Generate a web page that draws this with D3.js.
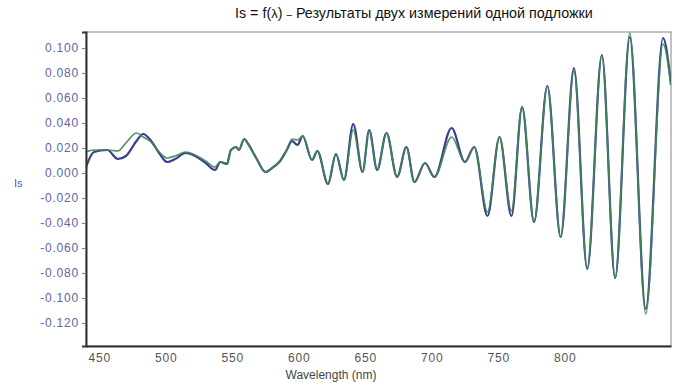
<!DOCTYPE html>
<html>
<head>
<meta charset="utf-8">
<script src="https://cdn.jsdelivr.net/npm/d3@7"></script>
<style>
  body { margin: 0; background: #fff; }
  svg { display: block; font-family: "Liberation Sans", Arial, sans-serif; }
  .axis--y text { fill: #6464a6; font-size: 12px; letter-spacing: 0.8px; }
  .axis--x text { fill: #555; font-size: 12px; letter-spacing: 0.8px; }
</style>
</head>
<body>
<div id="chart"></div>
<script>
// Is = f(lambda), two measurements of the same substrate

const wavelength = [
  440, 446, 456, 464, 470, 478, 483, 489, 495, 501, 507, 515, 522, 530, 537, 541, 546,
  549, 553, 555, 559, 562, 568, 575, 580, 586, 591, 595, 599, 603, 610, 614, 622, 628,
  634, 641, 648, 653, 659, 666, 674, 681, 687, 695, 702, 715, 725, 732, 742, 751, 760,
  768, 777, 787, 797, 807, 817, 828, 838, 849, 861, 874, 880
];

const isBlue = [
  0.0048, 0.0168, 0.0184, 0.0112, 0.0136, 0.0256, 0.0312, 0.0256, 0.0160, 0.0088, 0.0112,
  0.0160, 0.0136, 0.0080, 0.0024, 0.0088, 0.0072,
  0.0184, 0.0208, 0.0184, 0.0272, 0.0232, 0.0120, 0.0008, 0.0040, 0.0096, 0.0184, 0.0256,
  0.0224, 0.0296, 0.0104, 0.0176, -0.0088, 0.0152,
  -0.0056, 0.0392, 0.0008, 0.0344, 0.0024, 0.0320, -0.0032, 0.0208, -0.0072, 0.0080,
  -0.0032, 0.0360, 0.0088, 0.0208, -0.0344, 0.0288, -0.0344,
  0.0528, -0.0392, 0.0696, -0.0512, 0.0840, -0.0768, 0.0944, -0.0840, 0.1088, -0.1088,
  0.1080, 0.0704
];

const isGreen = [
  0.0168, 0.0184, 0.0184, 0.0176, 0.0240, 0.0320, 0.0288, 0.0248, 0.0168, 0.0120, 0.0136,
  0.0168, 0.0144, 0.0096, 0.0048, 0.0088, 0.0080,
  0.0184, 0.0208, 0.0184, 0.0272, 0.0232, 0.0120, 0.0008, 0.0040, 0.0096, 0.0184, 0.0272,
  0.0264, 0.0296, 0.0104, 0.0176, -0.0088, 0.0152,
  -0.0056, 0.0344, 0.0008, 0.0344, 0.0024, 0.0320, -0.0032, 0.0208, -0.0072, 0.0080,
  -0.0032, 0.0288, 0.0088, 0.0208, -0.0312, 0.0288, -0.0304,
  0.0528, -0.0392, 0.0696, -0.0512, 0.0816, -0.0768, 0.0944, -0.0840, 0.1120, -0.1128,
  0.1032, 0.0704
];

const xTicks = [450, 500, 550, 600, 650, 700, 750, 800];
const yTicks = [0.1, 0.08, 0.06, 0.04, 0.02, 0, -0.02, -0.04, -0.06, -0.08, -0.1, -0.12];

const W = 675, H = 385;
const PLOT = { left: 86, right: 671, top: 32, bottom: 346 };

const svg = d3.select('#chart').append('svg')
  .attr('width', W)
  .attr('height', H);

const x = d3.scaleLinear().domain([440, 880]).range([PLOT.left, PLOT.right]);
const y = d3.scaleLinear().domain([-0.1384, 0.1128]).range([PLOT.bottom, PLOT.top]);

// title
const title = svg.append('text')
  .attr('x', 235)
  .attr('y', 18)
  .attr('font-size', 14.3)
  .attr('fill', '#111');
title.append('tspan').text('Is = f(');
title.append('tspan').attr('font-size', 13).text('λ');
title.append('tspan').text(') ');
title.append('tspan').attr('font-size', 10).text('–');
title.append('tspan').text(' Результаты двух измерений одной подложки');

// frame: light top/right, dark left/bottom
svg.append('rect')
  .attr('x', PLOT.left).attr('y', PLOT.top)
  .attr('width', PLOT.right - PLOT.left)
  .attr('height', PLOT.bottom - PLOT.top)
  .attr('fill', '#fff')
  .attr('stroke', '#9a9a9a')
  .attr('stroke-width', 1.2);

// curves
svg.append('clipPath').attr('id', 'clip')
  .append('rect')
  .attr('x', PLOT.left).attr('y', PLOT.top)
  .attr('width', PLOT.right - PLOT.left)
  .attr('height', PLOT.bottom - PLOT.top);

const line = d3.line()
  .x((d, i) => x(wavelength[i]))
  .y(d => y(d))
  .curve(d3.curveMonotoneX);

const gLines = svg.append('g').attr('clip-path', 'url(#clip)');

gLines.append('path')
  .datum(isBlue)
  .attr('d', line)
  .attr('fill', 'none')
  .attr('stroke', '#3c3c92')
  .attr('stroke-width', 2.2)
  .attr('stroke-linejoin', 'round');

gLines.append('path')
  .datum(isGreen)
  .attr('d', line)
  .attr('fill', 'none')
  .attr('stroke', '#3f8756')
  .attr('stroke-width', 1.7)
  .attr('stroke-opacity', 0.9)
  .attr('stroke-linejoin', 'round');

// axes
const gy = svg.append('g').attr('class', 'axis axis--y')
  .attr('transform', `translate(${PLOT.left},0)`)
  .call(d3.axisLeft(y).tickValues(yTicks).tickSize(4).tickPadding(3)
    .tickFormat(d => d.toFixed(3)));
gy.select('.domain').attr('stroke', '#333').attr('stroke-width', 2);
gy.selectAll('.tick line').attr('stroke', '#7a7a9a');

const gx = svg.append('g').attr('class', 'axis axis--x')
  .attr('transform', `translate(0,${PLOT.bottom})`)
  .call(d3.axisBottom(x).tickValues(xTicks).tickSize(0).tickPadding(7));
gx.select('.domain').attr('stroke', '#333').attr('stroke-width', 2);

// axis titles
svg.append('text')
  .attr('x', 331)
  .attr('y', 379)
  .attr('text-anchor', 'middle')
  .attr('font-size', 12)
  .attr('fill', '#444')
  .text('Wavelength (nm)');

svg.append('text')
  .attr('x', 14)
  .attr('y', 187)
  .attr('font-size', 11)
  .attr('fill', '#5a5aa0')
  .text('Is');
</script>
</body>
</html>
